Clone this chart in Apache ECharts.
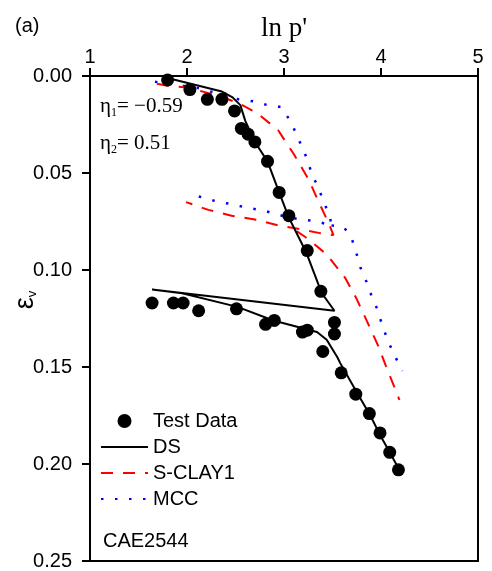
<!DOCTYPE html>
<html><head><meta charset="utf-8">
<script src="https://cdn.jsdelivr.net/npm/echarts@6/dist/echarts.min.js"></script>
<style>html,body{margin:0;padding:0;background:#fff}#c{width:492px;height:571px}</style>
</head><body><div id="c"></div>
<script>
// ---- data ----
const xTicks = [1, 2, 3, 4, 5];
const yTicks = [0.00, 0.05, 0.10, 0.15, 0.20, 0.25];

const testX = [1.80,2.03,2.21,2.36,2.49,2.56,2.63,2.70,2.83,2.95,3.05,3.24,3.38,3.52,3.52,3.40,
               1.64,1.86,1.96,2.12,2.51,2.81,2.90,3.19,3.24,3.59,3.74,3.88,3.99,4.09,4.18];
const testY = [0.002,0.007,0.012,0.012,0.018,0.027,0.030,0.034,0.044,0.060,0.072,0.090,0.111,0.127,0.133,0.142,
               0.117,0.117,0.117,0.121,0.120,0.128,0.126,0.132,0.131,0.153,0.164,0.174,0.184,0.194,0.203];

const dsX = [1.80,2.36,2.47,2.55,2.60,2.70,2.83,2.95,3.05,3.23,3.39,3.52,
             1.64,1.95,2.52,2.89,3.34,3.44,3.55,3.58,3.75,3.89,3.99,4.09,4.20];
const dsY = [0.001,0.008,0.011,0.015,0.023,0.034,0.044,0.060,0.073,0.091,0.112,0.121,
             0.110,0.112,0.119,0.126,0.132,0.136,0.145,0.148,0.163,0.175,0.185,0.194,0.204];

const sclayLoadX = [1.69,1.80,2.02,2.23,2.42,2.53,2.72,2.94,3.11,3.25,3.35,3.47,3.51,
                    3.37,3.17,2.94,2.70,2.46,2.22,1.99];
const sclayLoadY = [0.004,0.005,0.006,0.009,0.012,0.014,0.019,0.028,0.041,0.053,0.064,0.077,0.082,
                    0.081,0.079,0.077,0.074,0.072,0.069,0.065];
const sclayReloadX = [3.13,3.22,3.32,3.44,3.63,3.75,3.87,3.97,4.07,4.16,4.19];
const sclayReloadY = [0.080,0.083,0.087,0.092,0.104,0.115,0.128,0.139,0.152,0.163,0.167];

const mccLoadX = [1.67,1.83,1.96,2.10,2.24,2.39,2.53,2.68,2.83,2.97,3.05,3.12,3.18,3.24,3.29,3.35,3.41,3.47,3.49,
                  3.34,3.20,3.05,2.91,2.76,2.62,2.46,2.33,2.19,2.04];
const mccLoadY = [0.003,0.004,0.005,0.006,0.008,0.009,0.012,0.013,0.015,0.016,0.022,0.029,0.036,0.043,0.051,0.057,0.065,0.072,0.077,
                  0.075,0.074,0.073,0.071,0.069,0.068,0.066,0.065,0.063,0.061];
const mccReloadX = [3.49,3.62,3.70,3.75,3.79,3.85,3.90,3.96,4.01,4.06,4.12,4.19,4.22];
const mccReloadY = [0.077,0.078,0.084,0.092,0.099,0.106,0.113,0.120,0.128,0.135,0.142,0.149,0.152];

const pairs = (xs, ys) => xs.map((x, i) => [x, ys[i]]);

const SANS = "'Liberation Sans', Arial, sans-serif";
const SERIF = "'Liberation Serif', 'Times New Roman', serif";
const hiddenSym = {opacity: 0, color: 'transparent', borderWidth: 0};

const chart = echarts.init(document.getElementById('c'), null, {renderer: 'canvas'});
chart.setOption({
  animation: false,
  backgroundColor: '#fff',
  grid: {left: 90, right: 14, top: 76, bottom: 9, show: true, borderColor: '#000', borderWidth: 2},
  xAxis: {
    type: 'value', position: 'top', min: xTicks[0], max: xTicks[xTicks.length - 1], interval: 1,
    axisLine: {show: true, lineStyle: {color: '#000', width: 2}},
    axisTick: {show: true, inside: false, length: 8, lineStyle: {color: '#000', width: 2}},
    axisLabel: {color: '#000', fontSize: 20, fontFamily: SANS, margin: 9},
    splitLine: {show: false},
    name: "ln p'", nameLocation: 'middle', nameGap: 34,
    nameTextStyle: {fontFamily: SERIF, fontSize: 27, color: '#000'}
  },
  yAxis: {
    type: 'value', inverse: true, min: yTicks[0], max: yTicks[yTicks.length - 1], interval: 0.05,
    axisLine: {show: true, lineStyle: {color: '#000', width: 2}},
    axisTick: {show: true, inside: false, length: 8, lineStyle: {color: '#000', width: 2}},
    axisLabel: {color: '#000', fontSize: 20, fontFamily: SANS, margin: 18, formatter: v => v.toFixed(2)},
    splitLine: {show: false}
  },
  legend: {
    orient: 'vertical', left: 100, top: 411, padding: 0,
    itemWidth: 47, itemHeight: 14, itemGap: 6,
    textStyle: {fontSize: 20, fontFamily: SANS, color: '#000', lineHeight: 20},
    data: [
      {name: 'Test Data'},
      {name: 'DS', itemStyle: hiddenSym},
      {name: 'S-CLAY1', itemStyle: hiddenSym},
      {name: 'MCC', itemStyle: hiddenSym}
    ]
  },
  graphic: [
    {type: 'text', left: 15, top: 16, style: {text: '(a)', font: "20px " + SANS, fill: '#000'}},
    {type: 'text', left: 103, top: 531, style: {text: 'CAE2544', font: "20px " + SANS, fill: '#000'}},
    {type: 'text', left: 100, top: 96, style: {
      text: '{a|η}{b|1}{a|= −0.59}',
      rich: {a: {fontFamily: SERIF, fontSize: 21, fill: '#000'}, b: {fontFamily: SERIF, fontSize: 12, fill: '#000', padding: [12, 0, 0, 0]}}
    }},
    {type: 'text', left: 100, top: 133, style: {
      text: '{a|η}{b|2}{a|= 0.51}',
      rich: {a: {fontFamily: SERIF, fontSize: 21, fill: '#000'}, b: {fontFamily: SERIF, fontSize: 12, fill: '#000', padding: [12, 0, 0, 0]}}
    }},
    {type: 'text', x: 26, y: 300, rotation: Math.PI / 2, style: {
      text: '{e|ε}{s|v}', align: 'center', verticalAlign: 'middle',
      rich: {e: {fontFamily: SANS, fontSize: 27, fill: '#000'}, s: {fontFamily: SANS, fontSize: 13, fill: '#000', padding: [12, 0, 0, 0]}}
    }}
  ],
  series: [
    {name: 'MCC', type: 'line', data: pairs(mccLoadX, mccLoadY), symbol: 'none', showSymbol: false,
     itemStyle: {color: '#0000ff'},
     lineStyle: {color: '#0000ff', width: 2.5, type: [2.5, 11.5], cap: 'butt'}, z: 2},
    {name: 'MCC', type: 'line', data: pairs(mccReloadX, mccReloadY), symbol: 'none', showSymbol: false,
     itemStyle: {color: '#0000ff'},
     lineStyle: {color: '#0000ff', width: 2.5, type: [2.5, 11.5], cap: 'butt'}, z: 2},
    {name: 'S-CLAY1', type: 'line', data: pairs(sclayLoadX, sclayLoadY), symbol: 'none', showSymbol: false,
     itemStyle: {color: '#ff0000'},
     lineStyle: {color: '#ff0000', width: 2, type: [12, 10]}, z: 3},
    {name: 'S-CLAY1', type: 'line', data: pairs(sclayReloadX, sclayReloadY), symbol: 'none', showSymbol: false,
     itemStyle: {color: '#ff0000'},
     lineStyle: {color: '#ff0000', width: 2, type: [12, 10]}, z: 3},
    {name: 'DS', type: 'line', data: pairs(dsX, dsY), symbol: 'none', showSymbol: false,
     itemStyle: {color: '#000'},
     lineStyle: {color: '#000', width: 2}, z: 4},
    {name: 'Test Data', type: 'scatter', data: pairs(testX, testY), symbol: 'circle', symbolSize: 13,
     itemStyle: {color: '#000', opacity: 1}, z: 5}
  ]
});
</script>
</body></html>
